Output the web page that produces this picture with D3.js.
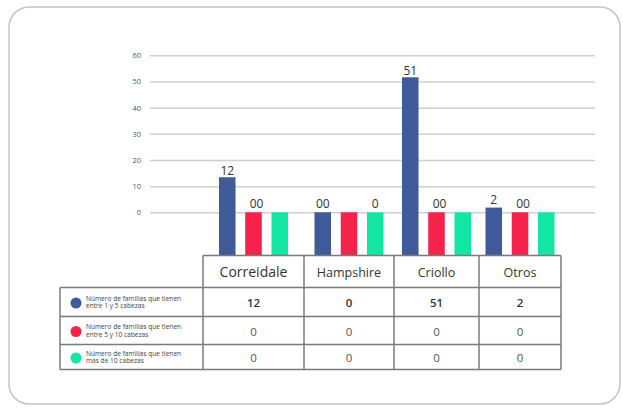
<!DOCTYPE html>
<html>
<head>
<meta charset="utf-8">
<script src="https://cdn.jsdelivr.net/npm/d3@7"></script>
<style>
html,body{margin:0;padding:0;background:#fff;}
svg{display:block;font-family:"Open Sans","Noto Sans",sans-serif;}
</style>
</head>
<body>
<svg id="chart" width="623" height="410"></svg>
<script>
// ---- data ----
const categories = ["Correidale", "Hampshire", "Criollo", "Otros"];
const seriesNames = [
  ["Número de familias que tienen", "entre 1 y 5 cabezas"],
  ["Número de familias que tienen", "entre 5 y 10 cabezas"],
  ["Número de familias que tienen", "más de 10 cabezas"]
];
// values as printed in the table
const tableSeries1 = [12, 0, 51, 2];
const tableSeries2 = [0, 0, 0, 0];
const tableSeries3 = [0, 0, 0, 0];
// bar heights as drawn in the picture
const barSeries1 = [13.4, 0, 51.6, 1.8];
const barSeries2 = [0, 0, 0, 0];
const barSeries3 = [0, 0, 0, 0];
// labels written above the bars
const barLabels1 = ["12", "00", "51", "2"];
const barLabels2 = ["00", "", "00", "00"];
const barLabels3 = ["", "0", "", ""];
const yTicks = [0, 10, 20, 30, 40, 50, 60];
const colors = ["#3f5b99", "#f5234c", "#13e6a4"];

// ---- layout ----
const svg = d3.select("#chart");
const colWidths = [101, 90, 85, 82];
const tableLeft = 60, labelColRight = 203;
const headerTop = 255.5, headerH = 32;
const rowHeights = [29, 28, 25];
const gridLeft = 150, gridRight = 595;

// frame
svg.append("rect").attr("x", 9).attr("y", 7).attr("width", 611).attr("height", 397)
  .attr("rx", 20).attr("fill", "#fff").attr("stroke", "#c4c4c4").attr("stroke-width", 1.5);

const y = d3.scaleLinear().domain([0, 60]).range([212.3, 55.3]);

// gridlines + tick labels
const yAxis = d3.axisLeft(y).tickValues(yTicks).tickSize(-(gridRight - gridLeft)).tickPadding(9);
const gAxis = svg.append("g").attr("transform", `translate(${gridLeft},0)`).call(yAxis);
gAxis.select(".domain").remove();
gAxis.selectAll(".tick line").attr("stroke", "#cfcfcf").attr("stroke-width", 1.5);
gAxis.selectAll(".tick text").attr("fill", "#555").attr("font-size", 7.5)
  .attr("font-family", "'Open Sans', sans-serif");

// column boundaries
const colX = [labelColRight];
colWidths.forEach((w, i) => colX.push(colX[i] + w));
const tableRight = colX[colX.length - 1];

const barSeries = [barSeries1, barSeries2, barSeries3];
const barLabels = [barLabels1, barLabels2, barLabels3];
const inner = d3.scaleBand().domain([0, 1, 2]).range([0, 69]).paddingInner(0.37);

const barsG = svg.append("g");
categories.forEach((c, ci) => {
  const cx = (colX[ci] + colX[ci + 1]) / 2;
  const gx = cx - 34.5;
  barSeries.forEach((s, si) => {
    const v = s[ci];
    const x0 = gx + inner(si);
    barsG.append("rect")
      .attr("x", x0).attr("y", y(v))
      .attr("width", inner.bandwidth()).attr("height", headerTop - y(v))
      .attr("fill", colors[si]);
    const lab = barLabels[si][ci];
    if (lab) {
      barsG.append("text")
        .attr("x", x0 + inner.bandwidth() / 2 + (lab === "00" && si > 0 ? 3 : 0))
        .attr("y", y(v) - (v > 10 ? 2 : 4))
        .attr("text-anchor", "middle")
        .attr("font-size", 12).attr("fill", "#333")
        .text(lab);
    }
  });
});

// ---- table ----
const tg = svg.append("g");
const rowY = [headerTop + headerH];
rowHeights.forEach((h, i) => rowY.push(rowY[i] + h));
const tableBottom = rowY[rowY.length - 1];
const lineColor = "#7a7a7a";
const lw = 1.5;

// header top line
tg.append("line").attr("x1", labelColRight).attr("x2", tableRight)
  .attr("y1", headerTop).attr("y2", headerTop).attr("stroke", lineColor).attr("stroke-width", lw);
// horizontal row lines
rowY.forEach(yy => {
  tg.append("line").attr("x1", tableLeft).attr("x2", tableRight)
    .attr("y1", yy).attr("y2", yy).attr("stroke", lineColor).attr("stroke-width", lw);
});
// vertical lines
tg.append("line").attr("x1", tableLeft).attr("x2", tableLeft)
  .attr("y1", rowY[0]).attr("y2", tableBottom).attr("stroke", lineColor).attr("stroke-width", lw);
colX.forEach(xx => {
  tg.append("line").attr("x1", xx).attr("x2", xx)
    .attr("y1", headerTop).attr("y2", tableBottom).attr("stroke", lineColor).attr("stroke-width", lw);
});

// header text
categories.forEach((c, ci) => {
  tg.append("text")
    .attr("x", (colX[ci] + colX[ci + 1]) / 2)
    .attr("y", headerTop + headerH / 2 + 1)
    .attr("dy", "0.35em")
    .attr("text-anchor", "middle")
    .attr("font-size", c === "Correidale" ? 14 : 12.5)
    .attr("fill", "#333")
    .text(c);
});

// rows
const tableSeries = [tableSeries1, tableSeries2, tableSeries3];
tableSeries.forEach((s, si) => {
  const cy = (rowY[si] + rowY[si + 1]) / 2;
  tg.append("circle").attr("cx", 76).attr("cy", cy + 1).attr("r", 5.5).attr("fill", colors[si]);
  tg.append("text").attr("x", 86).attr("y", cy - 1.5).attr("font-size", 6.6).attr("fill", "#444")
    .text(seriesNames[si][0]);
  tg.append("text").attr("x", 86).attr("y", cy + 6.3).attr("font-size", 6.6).attr("fill", "#444")
    .text(seriesNames[si][1]);
  s.forEach((v, ci) => {
    tg.append("text")
      .attr("x", (colX[ci] + colX[ci + 1]) / 2)
      .attr("y", cy + 1)
      .attr("dy", "0.35em")
      .attr("text-anchor", "middle")
      .attr("font-size", 11.5)
      .attr("font-weight", si === 0 ? 600 : 400)
      .attr("fill", si === 0 ? "#333" : "#555")
      .text(v);
  });
});
</script>
</body>
</html>
